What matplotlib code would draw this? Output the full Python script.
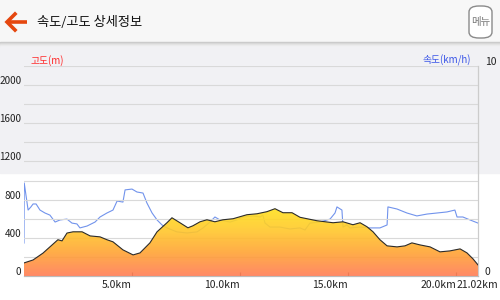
import numpy as np
import matplotlib
matplotlib.use('Agg')
import matplotlib.pyplot as plt
import matplotlib.transforms as mtransforms
from matplotlib.colors import LinearSegmentedColormap
from matplotlib.patches import Rectangle, Polygon, FancyBboxPatch
from matplotlib.lines import Line2D

plt.rcParams['font.family'] = ['Noto Sans CJK KR', 'DejaVu Sans']

# elevation profile (km, m)
elev_km = [0.00, 0.42, 0.88, 1.20, 1.57, 1.76, 1.99, 2.27, 2.69, 3.06, 3.52, 3.84, 4.12,
           4.58, 5.05, 5.37, 5.83, 6.16, 6.62, 6.85, 7.22, 7.59, 7.82, 8.15, 8.47, 8.84,
           9.21, 9.68, 10.32, 10.79, 11.25, 11.62, 11.99, 12.41, 12.78, 13.56, 14.31,
           14.77, 15.23, 15.56, 15.88, 16.16, 16.48, 16.81, 17.27, 17.64, 17.96, 18.33,
           18.80, 19.26, 19.72, 20.19, 20.51, 20.79, 21.02]
elev_m = [137, 168, 240, 305, 380, 368, 450, 463, 463, 420, 410, 380, 358,
          274, 221, 242, 347, 463, 558, 610, 558, 505, 526, 568, 589, 568,
          589, 600, 642, 652, 674, 705, 663, 663, 615, 579, 558,
          568, 537, 558, 516, 463, 380, 316, 305, 316, 347, 326,
          305, 253, 263, 284, 242, 179, 116]

# speed (km, km/h)
speed_km = [0.00, 0.01, 0.19, 0.32, 0.42, 0.56, 0.74, 0.97, 1.20, 1.44, 1.67, 1.99, 2.22,
            2.45, 2.59, 2.92, 3.29, 3.52, 3.84, 4.12, 4.31, 4.58, 4.68, 5.00, 5.23, 5.51,
            5.69, 5.93, 6.16, 6.39, 6.62, 7.08, 7.55, 8.01, 8.29, 8.61, 8.84, 9.07, 9.54,
            9.86, 10.14, 10.60, 10.93, 11.06, 11.16, 11.39, 11.85, 12.31, 12.78, 13.01,
            13.24, 13.70, 14.17, 14.40, 14.49, 14.72, 14.77, 14.95, 15.09, 15.56, 16.02,
            16.48, 16.81, 16.85, 17.27, 17.73, 18.19, 18.66, 19.12, 19.58, 19.95, 20.05,
            20.32, 20.65, 21.02]
speed_kmh = [1.57, 4.43, 3.14, 3.29, 3.43, 3.43, 3.14, 3.00, 2.90, 2.57, 2.67, 2.71, 2.52,
             2.48, 2.29, 2.38, 2.57, 2.81, 3.00, 3.14, 3.57, 3.52, 4.10, 4.14, 4.00, 3.95,
             3.48, 3.00, 2.67, 2.43, 2.29, 2.10, 2.05, 2.10, 2.29, 2.57, 2.81, 2.67, 2.57,
             2.67, 2.81, 2.86, 2.81, 2.90, 2.52, 2.33, 2.33, 2.24, 2.29, 2.19,
             2.52, 2.57, 2.71, 3.00, 3.29, 3.14, 2.33, 2.43, 2.29, 2.33, 2.29,
             2.29, 2.43, 3.29, 3.19, 3.00, 2.86, 2.95, 3.00, 3.05, 3.14, 2.81,
             2.81, 2.67, 2.52]

x_ticks = [5.0, 10.0, 15.0, 20.0, 21.02]
x_labels = ['5.0km', '10.0km', '15.0km', '20.0km', '21.02km']
elev_ticks = [0, 400, 800, 1200, 1600, 2000]
title = '속도/고도 상세정보'

W, H = 500, 300
fig = plt.figure(figsize=(5, 3), dpi=100)
fig.patch.set_facecolor('white')


def fx(px):
    return px / W


def fy(py):
    return 1 - py / H


# header and background bands
fig.patches.append(Rectangle((0, fy(42)), 1, 42 / H, transform=fig.transFigure,
                             color='#f7f7f7', zorder=-5))
for i, c in enumerate(['#c9c9c9', '#d6d6d6', '#e2e2e2', '#ebebeb', '#f0f0f2']):
    fig.patches.append(Rectangle((0, fy(43 + i)), 1, 1 / H, transform=fig.transFigure,
                                 color=c, zorder=-5))
fig.patches.append(Rectangle((0, fy(173)), 1, (173 - 47) / H, transform=fig.transFigure,
                             color='#f1f1f4', zorder=-5))

# back arrow
arrow_col = '#e5470f'
fig.add_artist(Line2D([fx(8), fx(27)], [fy(22), fy(22)], color=arrow_col, lw=2.6,
                      transform=fig.transFigure, solid_capstyle='butt'))
fig.add_artist(Line2D([fx(15), fx(7), fx(15)], [fy(14), fy(22), fy(30)], color=arrow_col,
                      lw=2.6, transform=fig.transFigure, solid_joinstyle='miter'))
fig.text(fx(37), fy(22), title, fontsize=9.5, color='#111111', va='center', ha='left')

# menu button
fig.patches.append(FancyBboxPatch((fx(469), fy(38)), fx(23), 32 / H,
                                  boxstyle='round,pad=0,rounding_size=0.02',
                                  transform=fig.transFigure, facecolor='white',
                                  edgecolor='#8a8a8a', lw=1.0))
fig.text(fx(480.5), fy(22), '메뉴', fontsize=7.5, color='#777777', ha='center', va='center')

# axes
ax = fig.add_axes([fx(24), 1 - 276 / H, fx(478 - 24), (276 - 66) / H])
ax2 = ax.twinx()
ax2.set_zorder(1)
ax.set_zorder(2)
ax.patch.set_visible(False)
ax2.patch.set_visible(False)

# speed line (under the fill)
ax2.plot(speed_km, speed_kmh, color='#7193ec', lw=0.8)

# gradient-filled elevation
cmap = LinearSegmentedColormap.from_list('elev', ['#ff7c55', '#ffa334', '#ffc82a', '#ffe31c'])
grad = np.linspace(0, 1, 256).reshape(-1, 1)
im = ax.imshow(grad, extent=[0, 21.02, 0, 720], origin='lower', aspect='auto',
               cmap=cmap, alpha=0.9, zorder=2)
verts = np.column_stack([np.r_[elev_km, elev_km[::-1]],
                         np.r_[elev_m, np.zeros(len(elev_m))]])
clip = Polygon(verts, closed=True, facecolor='none', edgecolor='none')
ax.add_patch(clip)
im.set_clip_path(clip)
ax.plot(elev_km, elev_m, color='#2b2b2b', lw=0.8, zorder=3)
ax.set_xlim(0, 21.02)
ax.set_ylim(0, 2200)
ax2.set_ylim(0, 10)

# grid
ax.set_yticks(elev_ticks)
ax.set_yticks(np.arange(200, 2201, 200), minor=True)
ax.grid(True, which='both', axis='y', color='#d9d9d9', lw=0.8, zorder=0)
ax.tick_params(axis='y', which='both', length=0, labelsize=7.2, labelcolor='#222222', pad=2)

ax.set_xticks(x_ticks)
ax.set_xticklabels(x_labels)
ax.tick_params(axis='x', direction='in', length=3, width=0.8, color='#555555',
               labelsize=7.5, labelcolor='#222222', pad=3)
ax.xaxis.get_major_ticks()[-1].tick1line.set_visible(False)
for lbl in ax.get_xticklabels()[:-1]:
    lbl.set_ha('right')
last = ax.get_xticklabels()[-1]
last.set_ha('left')
last.set_transform(last.get_transform() +
                   mtransforms.ScaledTranslation(-21 / 100, 0, fig.dpi_scale_trans))

ax2.set_yticks([0, 10])
ax2.tick_params(axis='y', length=0, labelsize=7.5, labelcolor='#222222', pad=5)

up = mtransforms.ScaledTranslation(0, 5 / 100, fig.dpi_scale_trans)
for lbl in ax.get_yticklabels() + ax2.get_yticklabels():
    lbl.set_transform(lbl.get_transform() + up)

for a in (ax, ax2):
    a.spines['top'].set_visible(False)
    a.spines['left'].set_visible(False)
    a.spines['bottom'].set_color('#bbbbbb')
    a.spines['right'].set_color('#cccccc')
    a.spines['bottom'].set_linewidth(0.8)
    a.spines['right'].set_linewidth(0.8)

ax.text(0.015, 1.0, '고도(m)', transform=ax.transAxes, color='#ff2a2a', fontsize=7,
        ha='left', va='bottom')
ax.text(0.985, 1.0, '속도(km/h)', transform=ax.transAxes, color='#3a55e8', fontsize=7,
        ha='right', va='bottom')

fig.savefig('out.png', dpi=100)
